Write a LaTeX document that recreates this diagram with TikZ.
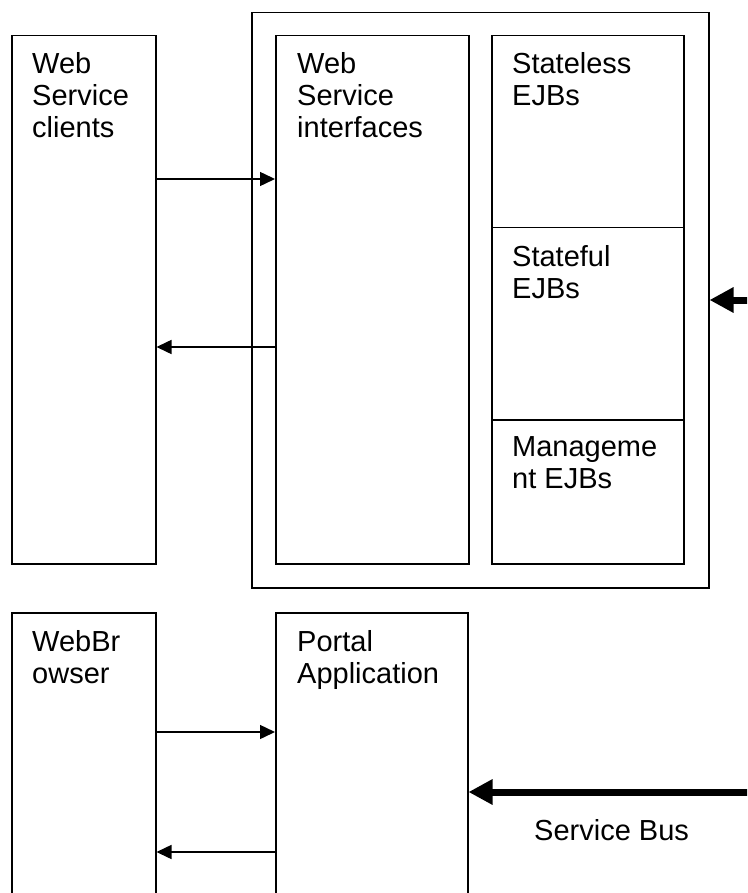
\documentclass[tikz,border=0pt]{standalone}
\usepackage{fontspec}
\setmainfont{Liberation Sans}
\usetikzlibrary{arrows.meta}
\tikzset{
  box/.style={draw=black, line width=1.5pt, inner sep=0pt, anchor=north west},
  lbl/.style={anchor=north west, inner sep=0pt, align=left, font=\fontsize{29}{32}\selectfont},
  thinarr/.style={draw=black, line width=1.5pt, -{Triangle[length=15pt,width=14pt]}},
  fatarr/.style={draw=black, line width=7pt, -{Triangle[length=24pt,width=24pt]}},
}
\begin{document}
\begin{tikzpicture}[x=1pt,y=-1pt]
\clip (0,0) rectangle (747,893);
\fill[white] (0,0) rectangle (747,893);
% top group
\node[box, minimum width=144pt, minimum height=528pt] (clients) at (11,35) {};
\node[box, minimum width=457pt, minimum height=575pt] (outer) at (251,12) {};
\node[box, minimum width=193pt, minimum height=528pt] (wsi) at (275,35) {};
\node[box, minimum width=192pt, minimum height=192pt] (sless) at (491,35) {};
\node[box, minimum width=192pt, minimum height=192pt] (sfull) at (491,227) {};
\node[box, minimum width=192pt, minimum height=144pt] (mgmt) at (491,419) {};
\node[lbl] (tclients) at (32,52.5) {Web\\Service\\clients};
\node[lbl] (twsi) at (297,52.5) {Web\\Service\\interfaces};
\node[lbl] (tsless) at (512,52.5) {Stateless\\EJBs};
\node[lbl] (tsfull) at (512,245.5) {Stateful\\EJBs};
\node[lbl] (tmgmt) at (512,436.5) {Manageme\\nt EJBs};
\draw[thinarr] (clients.east |- 0,179) -- (wsi.west |- 0,179);
\draw[thinarr] (wsi.west |- 0,347) -- (clients.east |- 0,347);
\coordinate (busA) at (760,300);
\draw[fatarr] (busA) -- (outer.east |- busA);
% bottom group
\node[box, minimum width=144pt, minimum height=300pt] (browser) at (11,612) {};
\node[box, minimum width=192pt, minimum height=300pt] (portal) at (275,612) {};
\node[lbl] (tbrowser) at (32,630.5) {WebBr\\owser};
\node[lbl] (tportal) at (297,630.5) {Portal\\Application};
\draw[thinarr] (browser.east |- 0,732) -- (portal.west |- 0,732);
\draw[thinarr] (portal.west |- 0,852) -- (browser.east |- 0,852);
\coordinate (busB) at (760,792);
\draw[fatarr] (busB) -- (portal.east |- busB);
\node[anchor=base west, inner sep=0pt, font=\fontsize{29}{32}\selectfont] (tbus) at (534,840) {Service Bus};
\end{tikzpicture}
\end{document}
